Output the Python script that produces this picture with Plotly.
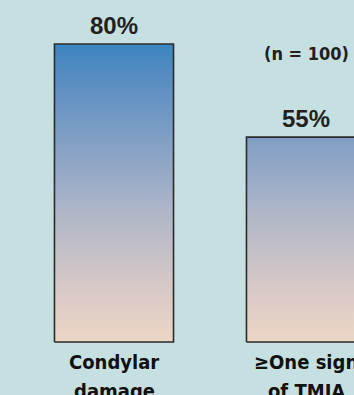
import plotly.graph_objects as go

# Data
categories = [["Condylar", "damage"], ["\u2265One sign", "of TMJA"]]
values = [80, 55]
value_labels = ["80%", "55%"]
sample_note = "(n = 100)"

BG = "#c6dfe0"
BAR_W = 0.62
LABEL_FONT = "Liberation Sans Narrow, DejaVu Sans Condensed, Arial Narrow, sans-serif"
LINE_PITCH = 28.7

# Vertical gradient (bottom -> top), anchored to the axis so equal heights share a colour
gradient = [
    [0.0, "#ecd6c4"],
    [0.15, "#dccbc6"],
    [0.3, "#c5c0c7"],
    [0.45, "#adb5c8"],
    [0.6, "#90a6c6"],
    [0.75, "#7399c4"],
    [0.9, "#548cc1"],
    [1.0, "#3c85bf"],
]

fig = go.Figure()

for i, (lines, v) in enumerate(zip(categories, values)):
    x0, x1 = i - BAR_W / 2, i + BAR_W / 2
    fig.add_trace(go.Scatter(
        x=[x0, x1, x1, x0, x0],
        y=[0, 0, v, v, 0],
        mode="lines",
        fill="toself",
        fillgradient=dict(type="vertical", colorscale=gradient, start=0, stop=max(values)),
        line=dict(color="#2b2b2b", width=1.6),
        hoverinfo="skip",
        showlegend=False,
    ))
    # value label above the bar
    fig.add_annotation(
        x=i, y=v, text=f"<b>{value_labels[i]}</b>", showarrow=False,
        yanchor="bottom", yshift=3,
        font=dict(family="Liberation Sans, Arial, sans-serif", size=24, color="#231f20"),
    )
    # category label below the bar, one annotation per line
    for k, line in enumerate(lines):
        fig.add_annotation(
            x=i, y=0, text=f"<b>{line}</b>", showarrow=False,
            yanchor="top", yshift=-6 - k * LINE_PITCH,
            font=dict(family=LABEL_FONT, size=20, color="#111111"),
        )

fig.add_annotation(
    x=1, y=values[1], text=f"<b>{sample_note}</b>", showarrow=False,
    yanchor="bottom", yshift=71,
    font=dict(family=LABEL_FONT, size=18, color="#231f20"),
)

fig.update_layout(
    width=354, height=395,
    margin=dict(l=0, r=0, t=0, b=0),
    paper_bgcolor=BG, plot_bgcolor=BG,
    xaxis=dict(range=[-0.59375, 1.25], visible=False, fixedrange=True),
    yaxis=dict(range=[-14.23, 91.81], visible=False, fixedrange=True),
)

fig.write_html("out.html")
